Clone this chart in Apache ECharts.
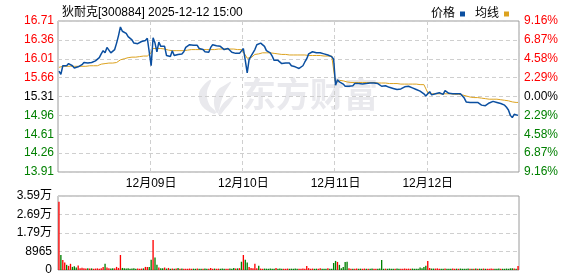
<!DOCTYPE html>
<html><head><meta charset="utf-8">
<script src="https://cdn.jsdelivr.net/npm/echarts@6/dist/echarts.min.js"></script>
<style>html,body{margin:0;padding:0;background:#fff}#c{width:578px;height:276px}</style>
</head><body><div id="c"></div>
<script>
// ---- data ----
const dayLabels = ['12月08日','12月09日','12月10日','12月11日','12月12日'];
const prevClose = 15.31;
const tickStep = 0.35;
const priceTicks = ['13.91','14.26','14.61','14.96','15.31','15.66','16.01','16.36','16.71'];
const pctTicks = ['9.16%','6.87%','4.58%','2.29%','0.00%','2.29%','4.58%','6.87%','9.16%'];
const volTicks = ['0','8965','1.79万','2.69万','3.59万'];
const volMax = 35860;
const volStep = 8965;

const priceD1 = [15.78,15.72,15.88,15.90,15.88,15.92,15.93,15.88,15.84,15.81,15.86,15.89,15.90,15.94,15.95,15.93,15.95,15.94,15.96,15.97,15.99,16.03,16.10,16.16,16.12,16.22,16.24,16.12,16.10,16.18,16.30,16.44,16.60,16.52,16.50,16.48,16.42,16.40,16.36,16.30,16.27,16.29,16.30,16.33,16.31,16.35,16.39,16.38];
const priceD2 = [15.88,16.40,16.30,16.14,16.32,16.24,16.22,16.24,16.07,16.08,16.05,16.16,16.07,16.10,16.09,16.11,16.10,16.14,16.22,16.24,16.27,16.27,16.26,16.24,16.26,16.20,16.17,16.18,16.14,16.12,16.13,16.22,16.27,16.24,16.25,16.26,16.24,16.22,16.18,16.19,16.20,16.17,16.13,16.11,16.11,16.10,16.11,16.08];
const priceD3 = [16.20,15.98,15.75,16.00,16.06,16.08,16.18,16.27,16.25,16.30,16.30,16.24,16.16,16.14,16.12,16.06,15.98,16.01,15.98,15.96,15.92,15.92,15.93,15.95,15.93,15.88,15.87,15.86,15.83,15.83,15.84,15.88,15.95,16.01,16.10,16.12,16.14,16.13,16.12,16.12,16.12,16.11,16.10,16.08,16.08,16.07,16.05,16.00];
const priceD4 = [15.52,15.62,15.58,15.56,15.54,15.50,15.47,15.50,15.52,15.51,15.55,15.56,15.55,15.53,15.54,15.56,15.55,15.57,15.56,15.55,15.56,15.57,15.55,15.53,15.50,15.49,15.51,15.50,15.48,15.47,15.46,15.46,15.44,15.43,15.45,15.46,15.49,15.49,15.50,15.50,15.47,15.45,15.44,15.43,15.41,15.39,15.36,15.32];
const priceD5 = [15.36,15.40,15.34,15.31,15.36,15.37,15.38,15.36,15.35,15.42,15.41,15.37,15.35,15.36,15.37,15.36,15.37,15.36,15.34,15.28,15.21,15.18,15.20,15.19,15.20,15.19,15.20,15.18,15.15,15.15,15.14,15.16,15.19,15.21,15.22,15.21,15.20,15.18,15.18,15.17,15.15,15.11,15.06,14.96,14.92,14.98,14.95,14.96];

const avgD1 = [15.85,15.86,15.87,15.87,15.87,15.87,15.87,15.87,15.87,15.87,15.87,15.87,15.87,15.87,15.87,15.87,15.88,15.88,15.88,15.88,15.88,15.89,15.91,15.92,15.92,15.92,15.93,15.93,15.93,15.93,15.94,15.96,15.99,16.00,16.01,16.01,16.03,16.03,16.04,16.04,16.04,16.05,16.05,16.05,16.06,16.06,16.06,16.07];
const avgD2 = [16.12,16.20,16.22,16.20,16.19,16.20,16.20,16.19,16.18,16.17,16.16,16.16,16.16,16.16,16.16,16.16,16.16,16.16,16.17,16.17,16.17,16.18,16.18,16.18,16.18,16.18,16.18,16.18,16.18,16.18,16.18,16.18,16.18,16.18,16.18,16.19,16.19,16.19,16.19,16.19,16.19,16.19,16.19,16.19,16.19,16.18,16.18,16.18];
const avgD3 = [16.15,16.08,16.02,16.00,16.03,16.06,16.09,16.10,16.10,16.11,16.12,16.12,16.12,16.12,16.12,16.12,16.11,16.10,16.10,16.09,16.09,16.09,16.09,16.08,16.08,16.08,16.08,16.08,16.08,16.08,16.08,16.08,16.08,16.07,16.07,16.07,16.07,16.07,16.07,16.07,16.07,16.06,16.06,16.06,16.06,16.06,16.06,16.06];
const avgD4 = [15.55,15.58,15.61,15.61,15.60,15.59,15.58,15.58,15.57,15.57,15.57,15.57,15.57,15.57,15.57,15.57,15.57,15.57,15.57,15.57,15.57,15.56,15.56,15.56,15.56,15.56,15.56,15.55,15.55,15.55,15.55,15.55,15.55,15.55,15.54,15.54,15.54,15.54,15.54,15.54,15.54,15.54,15.54,15.53,15.53,15.53,15.53,15.52];
const avgD5 = [15.38,15.37,15.36,15.36,15.36,15.36,15.36,15.36,15.36,15.36,15.36,15.36,15.36,15.36,15.35,15.35,15.35,15.34,15.34,15.33,15.32,15.31,15.30,15.30,15.29,15.29,15.29,15.28,15.28,15.27,15.27,15.27,15.26,15.26,15.26,15.26,15.26,15.25,15.25,15.25,15.24,15.24,15.23,15.22,15.21,15.21,15.20,15.20];

const volD1 = [33100,7270,4850,3600,2500,2000,3000,1500,1800,1200,2200,900,1100,800,700,900,700,800,600,700,800,600,900,1500,3000,1200,800,700,900,800,1500,1000,7270,1000,900,700,800,600,700,800,600,700,600,700,800,1500,1400,1500];
const volD2 = [5000,14540,6000,2500,1200,900,800,1200,700,1000,600,700,600,700,1000,600,700,600,650,600,700,600,650,600,700,600,650,600,700,600,650,1000,600,700,600,650,600,700,600,650,600,700,600,1000,700,800,900,4000];
const volD3 = [7270,5000,3600,1500,1000,900,3000,800,2000,700,600,700,650,600,700,600,650,1000,600,700,600,650,600,700,600,650,600,700,600,650,600,700,600,1900,900,600,700,600,650,600,800,600,650,600,800,600,650,3400];
const volD4 = [4400,3900,2500,900,1500,3900,4000,800,600,650,600,700,600,650,600,700,600,650,600,700,600,650,600,700,4850,600,650,600,700,600,650,600,700,600,650,600,700,600,650,600,700,600,650,600,1200,800,1500,2000];
const volD5 = [4370,1000,700,700,700,800,600,650,600,700,600,650,600,700,600,650,600,700,600,650,600,700,600,650,600,700,600,650,600,700,600,650,600,700,600,650,600,700,600,650,600,700,600,800,900,700,600,1900];

// ---- build ----
const priceDays = [priceD1,priceD2,priceD3,priceD4,priceD5];
const avgDays = [avgD1,avgD2,avgD3,avgD4,avgD5];
const volDays = [volD1,volD2,volD3,volD4,volD5];
const perDay = priceD1.length;
const cats = [], price = [], avg = [], vol = [];
dayLabels.forEach((d, di) => {
  for (let i = 0; i < perDay; i++) {
    cats.push(d + '|' + i);
    price.push(priceDays[di][i]);
    avg.push(avgDays[di][i]);
    vol.push(volDays[di][i]);
  }
});
const toUnit = p => (p - prevClose) / tickStep;
const RED = '#ff0000', GREEN = '#008000';
const volData = vol.map((v, i) => {
  const prev = i === 0 ? prevClose : price[i - 1];
  return { value: v, itemStyle: { color: price[i] >= prev ? RED : GREEN } };
});
const dayStart = idx => idx > 0 && idx % perDay === 0;
const FONT = '"Liberation Sans","Noto Sans CJK SC",sans-serif';
const gridLine = { show: true, lineStyle: { color: '#cfcfcf', type: [4, 3], width: 1 } };
const WM = '#e9e9ed';

const chart = echarts.init(document.getElementById('c'), null, { renderer: 'canvas' });
chart.setOption({
  animation: false,
  textStyle: { fontFamily: FONT },
  title: {
    text: '狄耐克[300884] 2025-12-12 15:00', left: 57, top: 2,
    textStyle: { fontSize: 12, fontWeight: 'normal', color: '#000', fontFamily: FONT }
  },
  legend: {
    data: ['价格', '均线'], right: 64, top: 3, align: 'right', icon: 'rect',
    itemWidth: 5, itemHeight: 5, itemGap: 10,
    textStyle: { fontSize: 12, color: '#000', fontFamily: FONT, padding: [0, 0, 0, 0] }
  },
  graphic: [
    { type: 'text', left: 242, top: 77, z: 0, silent: true,
      style: { text: '东方财富', font: 'bold 34px "Noto Sans CJK SC"', fill: WM } },
    { type: 'polygon', z: 0, silent: true,
      shape: { points: [[214,114],[202,106],[199,94],[203,86],[211,80],[207,92],[209,104],[216,112]], smooth: 0.4 },
      style: { fill: WM } },
    { type: 'polygon', z: 0, silent: true,
      shape: { points: [[216,112],[214,100],[218,90],[225,85],[231,82],[225,92],[221,102],[218,113]], smooth: 0.4 },
      style: { fill: WM } },
    { type: 'polygon', z: 0, silent: true,
      shape: { points: [[218,114],[222,105],[228,99],[234,96],[230,103],[225,109],[220,115]], smooth: 0.4 },
      style: { fill: WM } }
  ],
  grid: [
    { left: 58, right: 59, top: 21, height: 151, show: true, borderColor: '#9a9a9a', borderWidth: 1, backgroundColor: 'transparent' },
    { left: 58, right: 59, top: 196, height: 74, show: true, borderColor: '#9a9a9a', borderWidth: 1, backgroundColor: 'transparent' }
  ],
  xAxis: [
    {
      type: 'category', gridIndex: 0, data: cats, boundaryGap: true,
      axisLine: { show: false }, axisTick: { show: false },
      axisLabel: { interval: (i) => dayStart(i), formatter: v => v.split('|')[0], fontSize: 12, color: '#000', margin: 6 },
      splitLine: Object.assign({ interval: (i) => dayStart(i) }, gridLine)
    },
    {
      type: 'category', gridIndex: 1, data: cats, boundaryGap: true,
      axisLine: { show: false }, axisTick: { show: false }, axisLabel: { show: false }, splitLine: { show: false }
    }
  ],
  yAxis: [
    {
      type: 'value', gridIndex: 0, min: -4, max: 4, interval: 1, position: 'left',
      axisLine: { show: false }, axisTick: { show: false }, splitLine: gridLine,
      axisLabel: {
        fontSize: 12, margin: 4,
        formatter: v => priceTicks[Math.round(v) + 4],
        color: v => v > 0 ? RED : (v < 0 ? GREEN : '#000')
      }
    },
    {
      type: 'value', gridIndex: 0, min: -4, max: 4, interval: 1, position: 'right',
      axisLine: { show: false }, axisTick: { show: false }, splitLine: { show: false },
      axisLabel: {
        fontSize: 12, margin: 5,
        formatter: v => pctTicks[Math.round(v) + 4],
        color: v => v > 0 ? RED : (v < 0 ? GREEN : '#000')
      }
    },
    {
      type: 'value', gridIndex: 1, min: 0, max: volMax, interval: volStep,
      axisLine: { show: false }, axisTick: { show: false }, splitLine: gridLine,
      axisLabel: { fontSize: 12, margin: 6, color: '#000', formatter: v => volTicks[Math.round(v / volStep)] }
    }
  ],
  series: [
    {
      name: '均线', type: 'line', xAxisIndex: 0, yAxisIndex: 0, data: avg.map(toUnit),
      showSymbol: false, symbol: 'none', z: 3,
      lineStyle: { color: '#dca21f', width: 1 }, itemStyle: { color: '#dca21f' }
    },
    {
      name: '价格', type: 'line', xAxisIndex: 0, yAxisIndex: 0, data: price.map(toUnit),
      showSymbol: false, symbol: 'none', z: 4,
      lineStyle: { color: '#0b4fa0', width: 1.5 }, itemStyle: { color: '#0b4fa0' }
    },
    {
      name: '成交量', type: 'bar', xAxisIndex: 1, yAxisIndex: 2, data: volData,
      barCategoryGap: '30%'
    }
  ]
});
</script></body></html>
